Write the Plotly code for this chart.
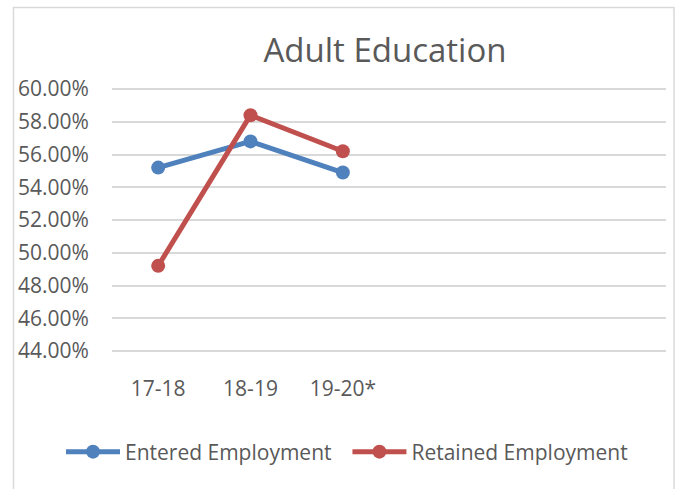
import plotly.graph_objects as go

categories = ["17-18", "18-19", "19-20*"]
entered = [0.552, 0.568, 0.549]
retained = [0.492, 0.584, 0.562]
series_names = ["Entered Employment", "Retained Employment"]
title_text = "Adult Education"

FONT = "Open Sans"
TXT = "#595959"

fig = go.Figure()
fig.add_trace(go.Scatter(x=categories, y=entered, mode="lines+markers",
                         name=series_names[0] + "\u00a0" * 2,
                         line=dict(color="#4f81bd", width=5), marker=dict(size=14, color="#4f81bd")))
fig.add_trace(go.Scatter(x=categories, y=retained, mode="lines+markers", name=series_names[1],
                         line=dict(color="#c0504d", width=5), marker=dict(size=14, color="#c0504d")))

W, H = 678, 489
PL, PR = 112, 666          # plot area left/right in px
T, B = 87, 136
ph = H - T - B
pad = 0.02 * 2 / 32.75
ytop = 0.60 + pad
ybot = 0.44 - pad

def py(y):
    return (H - B - y) / ph

fig.add_shape(type="rect", xref="paper", yref="paper",
              x0=13.5 / W, x1=674 / W, y0=py(500), y1=py(7.5),
              line=dict(color="#d9d9d9", width=1.5), fillcolor="rgba(0,0,0,0)", layer="below")

fig.update_layout(
    width=W, height=H,
    margin=dict(l=0, r=0, t=T, b=B),
    paper_bgcolor="white", plot_bgcolor="white",
    title=dict(text=title_text, x=385 / W, xanchor="center",
               y=1 - 50 / H, yanchor="middle", font=dict(family=FONT, size=33, color=TXT)),
    font=dict(family=FONT, color=TXT),
    showlegend=True,
    legend=dict(orientation="h", xref="container", yref="container",
                x=61 / W, xanchor="left", y=1 - 452 / H, yanchor="middle",
                itemwidth=54,
                font=dict(family=FONT, size=21, color=TXT)),
    xaxis=dict(domain=[PL / W, PR / W], type="category", categoryorder="array", categoryarray=categories,
               range=[-0.5, 5.5], showgrid=False, showline=False, zeroline=False,
               ticks="outside", ticklen=17, tickcolor="rgba(0,0,0,0)",
               tickfont=dict(family=FONT, size=21, color=TXT), fixedrange=True),
    yaxis=dict(range=[ybot, ytop], dtick=0.02, tick0=0.44, tickformat=".2%",
               showgrid=True, gridcolor="#d9d9d9", gridwidth=1.5, zeroline=False, showline=False,
               ticks="outside", ticklen=18, tickcolor="rgba(0,0,0,0)",
               tickfont=dict(family=FONT, size=21, color=TXT)),
)

fig.write_html("out.html", config={"displayModeBar": False},
               post_script="document.body.style.margin='0';")
